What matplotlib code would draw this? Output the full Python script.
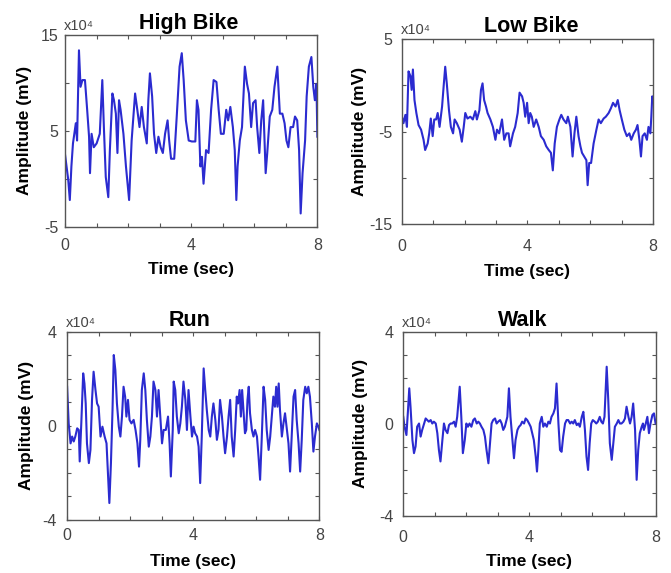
import matplotlib
matplotlib.use("Agg")
import matplotlib.pyplot as plt
from matplotlib.ticker import FixedLocator, NullFormatter

# amplitudes in units of 1e4 mV, time in seconds
high_t = [0.00, 0.10, 0.15, 0.20, 0.25, 0.34, 0.38, 0.44, 0.49, 0.55, 0.63, 0.70, 0.76, 0.79,
          0.84, 0.91, 1.00, 1.10, 1.18, 1.23, 1.29, 1.37, 1.42, 1.50, 1.55, 1.61, 1.66, 1.71,
          1.76, 1.85, 1.93, 2.03, 2.11, 2.22, 2.29, 2.36, 2.43, 2.50, 2.59, 2.64, 2.69, 2.76,
          2.82, 2.89, 2.96, 3.03, 3.10, 3.17, 3.25, 3.30, 3.36, 3.46, 3.54, 3.63, 3.70, 3.76,
          3.83, 3.92, 4.02, 4.13, 4.18, 4.23, 4.29, 4.34, 4.39, 4.47, 4.55, 4.63, 4.71, 4.80,
          4.87, 4.94, 5.03, 5.11, 5.17, 5.24, 5.32, 5.38, 5.43, 5.47, 5.54, 5.61, 5.70, 5.77,
          5.83, 5.90, 5.96, 6.04, 6.09, 6.16, 6.22, 6.28, 6.36, 6.41, 6.49, 6.57, 6.64, 6.73,
          6.81, 6.89, 6.96, 7.02, 7.08, 7.15, 7.23, 7.29, 7.36, 7.42, 7.47, 7.53, 7.61, 7.66,
          7.73, 7.81, 7.87, 7.92, 7.97, 8.00]
high_v = [2.5, -0.1, -2.2, 1.3, 3.7, 5.8, 4.0, 13.4, 9.6, 10.3, 10.3, 7.2, 4.4, 0.6,
          4.7, 3.3, 3.7, 4.7, 10.3, 5.4, 0.2, -1.9, 3.0, 8.9, 8.2, 6.8, 2.7, 8.2,
          7.2, 4.7, 1.3, -2.2, 4.0, 8.9, 7.2, 5.4, 7.5, 5.4, 3.7, 8.2, 11.0, 8.6,
          4.7, 2.7, 4.4, 3.3, 2.7, 4.7, 6.1, 4.0, 2.1, 2.1, 6.5, 11.7, 13.1, 10.3,
          6.1, 4.0, 3.9, 3.9, 8.2, 7.2, 1.3, 2.3, -0.5, 3.0, 2.7, 7.2, 10.3, 10.1,
          7.2, 4.7, 4.7, 7.2, 6.1, 7.5, 5.4, 3.0, -2.2, 1.3, 4.0, 5.4, 11.7, 9.9,
          8.9, 5.4, 7.9, 8.2, 5.4, 2.7, 6.1, 8.2, 0.6, 2.7, 6.5, 7.2, 9.6, 11.7,
          6.8, 6.8, 5.8, 4.0, 3.3, 5.4, 5.4, 6.5, 6.1, 3.0, -3.6, 0.6, 4.0, 8.6,
          11.7, 12.7, 9.6, 8.2, 9.9, 4.4]

low_t = [0.00, 0.05, 0.11, 0.16, 0.21, 0.27, 0.31, 0.35, 0.40, 0.46, 0.53, 0.61, 0.69, 0.74,
         0.82, 0.87, 0.92, 0.98, 1.03, 1.09, 1.14, 1.20, 1.28, 1.33, 1.38, 1.43, 1.50, 1.56,
         1.63, 1.68, 1.75, 1.84, 1.91, 1.97, 2.02, 2.09, 2.18, 2.26, 2.34, 2.39, 2.47, 2.52,
         2.57, 2.62, 2.68, 2.73, 2.82, 2.90, 2.98, 3.03, 3.10, 3.19, 3.26, 3.33, 3.40, 3.45,
         3.54, 3.61, 3.69, 3.75, 3.83, 3.88, 3.93, 3.99, 4.04, 4.09, 4.14, 4.20, 4.28, 4.36,
         4.43, 4.52, 4.60, 4.68, 4.75, 4.81, 4.87, 4.94, 5.02, 5.08, 5.15, 5.24, 5.29, 5.37,
         5.44, 5.50, 5.56, 5.63, 5.69, 5.74, 5.81, 5.88, 5.92, 5.97, 6.03, 6.11, 6.20, 6.27,
         6.34, 6.43, 6.50, 6.59, 6.66, 6.73, 6.81, 6.88, 6.94, 7.01, 7.09, 7.17, 7.25, 7.31,
         7.39, 7.46, 7.51, 7.57, 7.62, 7.67, 7.74, 7.81, 7.86, 7.92, 7.95, 7.98, 8.00]
low_v = [-3.4, -4.1, -3.2, -4.5, 1.5, 1.0, -0.5, 1.7, -1.6, -3.0, -4.3, -4.8, -5.9, -7.0,
         -6.3, -5.2, -3.6, -5.5, -3.7, -3.7, -3.0, -4.5, -2.3, -0.1, 2.0, 0.2, -2.7, -4.5,
         -5.2, -3.7, -4.1, -4.8, -6.1, -4.5, -3.0, -3.6, -3.4, -3.7, -2.8, -3.7, -2.7, -0.5,
         0.2, -1.6, -2.3, -3.0, -3.7, -4.5, -5.9, -4.8, -5.2, -3.7, -5.9, -5.2, -5.2, -6.6,
         -5.2, -4.5, -3.0, -0.8, -1.2, -1.9, -3.4, -1.9, -4.1, -3.0, -3.4, -4.5, -3.7, -4.5,
         -5.5, -5.9, -6.6, -7.0, -7.3, -9.2, -6.3, -4.5, -3.7, -3.2, -3.7, -4.1, -3.4, -4.5,
         -7.7, -5.2, -3.4, -5.5, -6.6, -7.3, -7.7, -8.1, -10.8, -8.4, -8.4, -6.3, -4.8, -3.7,
         -4.1, -3.6, -3.4, -3.0, -2.5, -1.9, -2.3, -1.6, -2.7, -3.7, -4.8, -5.5, -5.2, -5.9,
         -5.2, -4.8, -4.3, -5.9, -7.7, -5.5, -5.2, -5.9, -4.5, -5.2, -3.4, -1.2, -1.6]

run_t = [0.00, 0.05, 0.11, 0.16, 0.21, 0.26, 0.32, 0.37, 0.40, 0.45, 0.51, 0.55, 0.59, 0.63,
         0.69, 0.74, 0.79, 0.84, 0.90, 0.95, 1.00, 1.06, 1.12, 1.19, 1.25, 1.29, 1.34, 1.39,
         1.44, 1.48, 1.53, 1.58, 1.64, 1.69, 1.74, 1.79, 1.84, 1.88, 1.93, 1.98, 2.04, 2.11,
         2.17, 2.23, 2.28, 2.32, 2.37, 2.43, 2.48, 2.53, 2.59, 2.64, 2.69, 2.74, 2.80, 2.85,
         2.90, 2.96, 3.01, 3.06, 3.13, 3.20, 3.25, 3.29, 3.35, 3.38, 3.43, 3.48, 3.54, 3.59,
         3.64, 3.69, 3.75, 3.80, 3.85, 3.91, 3.96, 4.01, 4.06, 4.12, 4.17, 4.22, 4.27, 4.33,
         4.38, 4.43, 4.49, 4.54, 4.59, 4.64, 4.70, 4.75, 4.80, 4.85, 4.91, 4.96, 5.01, 5.07,
         5.12, 5.17, 5.22, 5.28, 5.33, 5.38, 5.42, 5.47, 5.51, 5.55, 5.59, 5.64, 5.68, 5.72,
         5.76, 5.80, 5.86, 5.91, 5.96, 6.02, 6.07, 6.12, 6.17, 6.23, 6.28, 6.33, 6.39, 6.44,
         6.49, 6.54, 6.59, 6.63, 6.67, 6.71, 6.75, 6.81, 6.86, 6.91, 6.97, 7.02, 7.07, 7.12,
         7.18, 7.23, 7.28, 7.34, 7.39, 7.44, 7.49, 7.55, 7.60, 7.65, 7.70, 7.76, 7.81, 7.86,
         7.92, 7.97, 8.00]
run_v = [1.66, 0.10, -0.75, -0.46, -0.67, -0.46, -0.11, -0.18, -1.52, 0.10, 2.23, 1.80, 0.95, -0.75,
         -1.59, -1.03, 1.10, 2.30, 1.52, 0.95, 0.81, -0.46, -0.04, -0.46, -0.75, -1.88, -3.29, -1.59,
         0.67, 3.01, 2.37, 0.95, -0.04, -0.46, 0.39, 1.66, 1.24, 0.39, 1.10, 0.25, 0.10, 0.25,
         -0.18, -0.75, -1.74, -0.60, 1.52, 2.23, 1.52, 0.25, -0.89, -0.46, 0.39, 1.88, 1.52, 0.39,
         1.52, 0.25, -0.75, -0.18, -0.18, 0.39, -0.75, -2.16, -0.18, 1.88, 1.52, 0.39, -0.32, 0.10,
         0.81, 1.88, 1.10, -0.18, 1.52, 0.39, -0.46, -0.04, -0.32, -0.46, -0.89, -2.44, -0.46, 2.44,
         1.52, 0.67, -0.18, -0.46, 0.39, 0.95, 0.25, -0.60, -0.18, 1.10, 0.39, -0.46, -1.17, -0.46,
         0.39, 1.10, -0.46, -1.31, -0.18, 1.24, 0.95, 1.52, 0.39, 1.52, 0.67, -0.32, -0.18, 1.10,
         1.66, 0.53, -0.18, -0.46, -0.18, -0.46, -1.31, -2.30, -0.60, 1.66, 1.10, -0.18, -1.03, -0.46,
         0.39, 1.24, 0.81, 1.66, 0.81, 1.80, 0.67, -0.46, 0.10, 0.53, -0.18, -0.75, -1.95, -0.46,
         1.24, 1.52, 0.25, -0.75, -1.95, -0.60, 1.10, 1.66, 1.38, 1.66, 1.24, 0.10, -1.10, -0.46,
         0.10, -0.04, -0.18]

walk_t = [0.00, 0.04, 0.10, 0.15, 0.19, 0.23, 0.29, 0.34, 0.39, 0.44, 0.50, 0.55, 0.60, 0.66,
          0.71, 0.76, 0.81, 0.87, 0.92, 0.97, 1.03, 1.08, 1.13, 1.18, 1.24, 1.29, 1.34, 1.40,
          1.45, 1.50, 1.55, 1.61, 1.66, 1.71, 1.79, 1.84, 1.89, 1.95, 2.00, 2.05, 2.10, 2.16,
          2.22, 2.27, 2.33, 2.38, 2.43, 2.48, 2.54, 2.59, 2.64, 2.70, 2.75, 2.80, 2.85, 2.91,
          2.96, 3.01, 3.07, 3.12, 3.17, 3.22, 3.30, 3.35, 3.40, 3.46, 3.51, 3.56, 3.62, 3.67,
          3.72, 3.77, 3.83, 3.88, 3.93, 3.99, 4.04, 4.09, 4.14, 4.20, 4.24, 4.29, 4.33, 4.39,
          4.44, 4.49, 4.55, 4.60, 4.65, 4.70, 4.76, 4.81, 4.86, 4.92, 4.97, 5.02, 5.07, 5.13,
          5.18, 5.23, 5.29, 5.34, 5.39, 5.44, 5.50, 5.55, 5.60, 5.66, 5.71, 5.76, 5.81, 5.86,
          5.91, 5.96, 6.01, 6.07, 6.12, 6.17, 6.23, 6.28, 6.33, 6.38, 6.45, 6.50, 6.55, 6.61,
          6.66, 6.71, 6.77, 6.82, 6.87, 6.92, 6.98, 7.03, 7.08, 7.14, 7.19, 7.24, 7.29, 7.35,
          7.40, 7.45, 7.50, 7.56, 7.60, 7.63, 7.69, 7.74, 7.79, 7.84, 7.90, 7.95, 8.00]
walk_v = [0.30, -0.13, -0.49, 0.59, 1.54, 0.74, -0.71, -1.28, -0.99, -0.13, 0.01, -0.56, -0.27, 0.01,
          0.23, 0.16, 0.09, 0.16, 0.01, 0.09, 0.01, -0.41, -1.14, -1.64, -0.71, 0.01, -0.27, -0.41,
          -0.06, 0.01, 0.01, 0.09, -0.13, 0.30, 1.61, 0.30, -1.28, -0.71, 0.01, -0.13, 0.01, -0.13,
          0.16, 0.23, 0.01, 0.09, 0.01, -0.13, -0.27, -0.56, -1.14, -1.72, -0.85, 0.01, 0.16, 0.23,
          0.01, 0.09, 0.16, 0.01, -0.27, -0.13, 0.30, 1.54, 0.30, -0.71, -1.50, -0.71, -0.27, -0.13,
          -0.06, 0.09, 0.01, 0.23, 0.16, 0.01, -0.13, -0.41, -0.71, -1.43, -2.08, -0.99, 0.01, 0.30,
          -0.13, 0.01, -0.13, 0.09, 0.01, 0.30, 0.45, 0.67, 1.75, 0.01, -1.14, -1.22, -0.56, 0.01,
          0.16, 0.16, 0.01, 0.09, 0.01, 0.16, -0.06, 0.01, -0.13, 0.30, 0.52, -0.27, -1.43, -2.01,
          -0.85, 0.01, 0.16, 0.09, 0.01, 0.09, 0.30, 0.09, 0.01, 0.30, 2.48, 1.03, -0.85, -1.57,
          -0.85, -0.13, 0.01, 0.16, 0.01, 0.01, 0.09, 0.23, 0.74, 0.30, 0.01, 0.30, 0.88, -0.27,
          -2.44, -1.14, -0.41, -0.13, 0.01, -0.27, 0.01, 0.30, -0.41, 0.01, 0.38, 0.45, 0.01]

titles = ["High Bike", "Low Bike", "Run", "Walk"]
series = [(high_t, high_v), (low_t, low_v), (run_t, run_v), (walk_t, walk_v)]
ylims = [(-5, 15), (-15, 5), (-4, 4), (-4, 4)]
ylabeled = [[-5, 5, 15], [-15, -5, 5], [-4, 0, 4], [-4, 0, 4]]
ystep = [5, 5, 1, 1]

# layout, per panel (the four panels were pasted together, so spacing differs a bit)
boxes = [(0.097, 0.604, 0.376, 0.335),
         (0.599, 0.609, 0.374, 0.323),
         (0.100, 0.093, 0.376, 0.328),
         (0.601, 0.100, 0.376, 0.321)]
title_xy = [(0.488, 1.03), (0.514, 1.037), (0.484, 1.032), (0.472, 1.033)]
xpad = [8, 11, 6, 10]
ypad = [5, 7, 7.5, 7]
xlab_y = [-0.182, -0.216, -0.181, -0.207]
ylab_x = [-0.13, -0.14, -0.133, -0.14]

plt.rcParams['font.family'] = ['Liberation Sans', 'DejaVu Sans']
plt.rcParams['axes.unicode_minus'] = False

fig = plt.figure(figsize=(6.71, 5.73), dpi=100)
fig.patch.set_facecolor('white')

gray = '#444444'
for i in range(4):
    ax = fig.add_axes(boxes[i])
    t, v = series[i]
    ax.plot(t, v, color='#2b2bd0', linewidth=1.5, solid_joinstyle='round')
    lo, hi = ylims[i]
    ax.set_xlim(0, 8)
    ax.set_ylim(lo, hi)

    ax.xaxis.set_major_locator(FixedLocator([0, 4, 8]))
    ax.xaxis.set_minor_locator(FixedLocator([1, 2, 3, 5, 6, 7]))
    ax.yaxis.set_major_locator(FixedLocator(ylabeled[i]))
    yminor = [y for y in range(lo, hi + 1, ystep[i]) if y not in ylabeled[i]]
    ax.yaxis.set_minor_locator(FixedLocator(yminor))
    ax.xaxis.set_minor_formatter(NullFormatter())
    ax.yaxis.set_minor_formatter(NullFormatter())

    ax.tick_params(which='both', direction='in', top=True, right=True,
                   length=3, width=0.8, color='#555555')
    ax.tick_params(axis='both', which='major', labelsize=11.5, labelcolor=gray)
    ax.tick_params(axis='x', which='major', pad=xpad[i])
    ax.tick_params(axis='y', which='major', pad=ypad[i])
    for s in ax.spines.values():
        s.set_color('#555555')
        s.set_linewidth(1.0)

    tx, ty = title_xy[i]
    ax.set_title(titles[i], fontsize=15.5, fontweight='bold', x=tx, y=ty, pad=0)
    ax.set_xlabel('Time (sec)', fontsize=12.5, fontweight='bold')
    ax.set_ylabel('Amplitude (mV)', fontsize=12.5, fontweight='bold')
    ax.xaxis.set_label_coords(0.5, xlab_y[i])
    ax.yaxis.set_label_coords(ylab_x[i], 0.5)
    ax.text(-0.005, 1.008, 'x10⁴', transform=ax.transAxes, fontsize=10.5,
            color=gray, ha='left', va='bottom')

fig.savefig('out.png', dpi=100, facecolor='white')
